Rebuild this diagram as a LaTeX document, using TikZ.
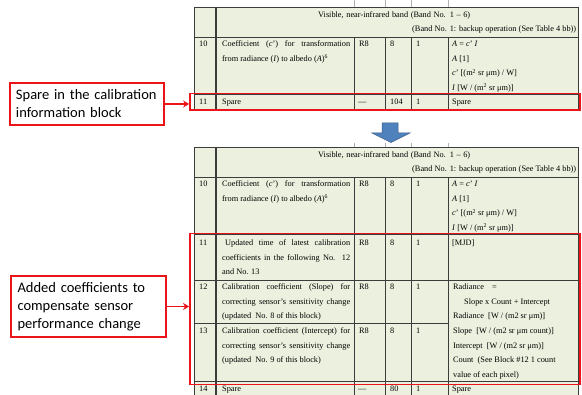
\documentclass[tikz,border=0pt]{standalone}
\usepackage{fontspec}
\setmainfont{Liberation Serif}
\newfontfamily\calfont{Carlito}
\usetikzlibrary{arrows.meta}
\definecolor{tbg}{RGB}{235,241,222}
\definecolor{gridc}{RGB}{60,60,60}
\definecolor{hlred}{RGB}{235,20,25}
\definecolor{arrblue}{RGB}{79,129,189}
\definecolor{arrblueD}{RGB}{56,93,138}
\tikzset{
 gridline/.style={draw=gridc, line width=0.6pt},
 coldiv/.style={draw=gridc, line width=1.1pt},
 tickline/.style={draw=gray!60, line width=0.5pt},
 cell/.style={anchor=base west, inner sep=0pt, font=\fontsize{8.3}{9.5}\selectfont},
 hlbox/.style={draw=hlred, line width=1.8pt, inner sep=0pt},
 callout/.style={draw=hlred, line width=1.8pt, font=\calfont\fontsize{14.5}{18}\selectfont, align=left, inner xsep=6pt, inner ysep=0pt},
 calarrow/.style={draw=hlred, line width=1.5pt, -{Stealth[length=6pt,width=7pt]}},
 downarrow/.style={fill=arrblue, draw=arrblueD, line width=0.5pt},
}
\newcommand{\J}[2]{\makebox[#1pt][s]{#2}}
\begin{document}
\begin{tikzpicture}[x=1pt,y=-1pt]
\useasboundingbox (0,0) rectangle (582,395);
% ---------- top table ----------
\fill[tbg] (194,7) rectangle (578,109);
\draw[gridline] (194,7) rectangle (578,109);
\draw[gridline] (194,37) -- (578,37) (194,94) -- (578,94);
\foreach \x in {354,385,411,448} {
  \draw[gridline] (\x,37) -- (\x,109);
  \draw[tickline] (\x,0) -- (\x,7);
}
\draw[coldiv] (216,7) -- (216,109);
\node[cell] (tVis) at (318,18) {\J{152}{Visible, near-infrared band (Band No. 1 – 6)}};
\node[cell] (tBand) at (412,32) {\J{164}{(Band No. 1: backup operation (See Table 4 bb))}};
\node[cell] (tN10) at (199,47) {10};
\node[cell] (tD10a) at (222,47) {\J{128}{Coefficient (\textit{c}') for transformation}};
\node[cell] (tD10b) at (222,61.5) {from radiance (\textit{I}) to albedo (\textit{A})\textsuperscript{6}};
\node[cell] (tT10) at (359,47) {R8};
\node[cell] (tS10) at (390,47) {8};
\node[cell] (tC10) at (416,47) {1};
\node[cell] (tU10a) at (452,47) {\textit{A} = \textit{c}' \textit{I}};
\node[cell] (tU10b) at (452,61.5) {\textit{A} [1]};
\node[cell] (tU10c) at (452,76) {\textit{c}' [(m\textsuperscript{2} sr μm) / W]};
\node[cell] (tU10d) at (452,90.5) {\textit{I} [W / (m\textsuperscript{2} sr μm)]};
\node[cell] (tN11) at (199,104.5) {11};
\node[cell] (tD11) at (222,104.5) {Spare};
\node[cell] (tT11) at (358,104.5) {—};
\node[cell] (tS11) at (390,104.5) {104};
\node[cell] (tC11) at (416,104.5) {1};
\node[cell] (tU11) at (452,104.5) {Spare};
% ---------- blue arrow ----------
\path[downarrow] (382,123) -- (398,123) -- (398,133) -- (410,133) -- (391,142.5)
  -- (372,133) -- (382,133) -- cycle;
% ---------- bottom table ----------
\fill[tbg] (194,147) rectangle (578,395);
\draw[gridline] (194,395) -- (194,147) -- (578,147) -- (578,395);
\draw[gridline] (194,177) -- (578,177) (194,234) -- (578,234) (194,280) -- (578,280)
  (194,323.5) -- (448,323.5) (194,381) -- (578,381);
\foreach \x in {354,385,411,448} {
  \draw[gridline] (\x,177) -- (\x,395);
  \draw[tickline] (\x,143) -- (\x,147);
}
\draw[coldiv] (216,147) -- (216,395);
\node[cell] (bVis) at (318,158) {\J{152}{Visible, near-infrared band (Band No. 1 – 6)}};
\node[cell] (bBand) at (412,172) {\J{164}{(Band No. 1: backup operation (See Table 4 bb))}};
\node[cell] (bN10) at (199,187) {10};
\node[cell] (bD10a) at (222,187) {\J{128}{Coefficient (\textit{c}') for transformation}};
\node[cell] (bD10b) at (222,201.5) {from radiance (\textit{I}) to albedo (\textit{A})\textsuperscript{6}};
\node[cell] (bT10) at (359,187) {R8};
\node[cell] (bS10) at (390,187) {8};
\node[cell] (bC10) at (416,187) {1};
\node[cell] (bU10a) at (452,187) {\textit{A} = \textit{c}' \textit{I}};
\node[cell] (bU10b) at (452,201.5) {\textit{A} [1]};
\node[cell] (bU10c) at (452,216) {\textit{c}' [(m\textsuperscript{2} sr μm) / W]};
\node[cell] (bU10d) at (452,230.5) {\textit{I} [W / (m\textsuperscript{2} sr μm)]};
% row 11
\node[cell] (bN11) at (199,246) {11};
\node[cell] (bD11a) at (225,246) {\J{125}{Updated time of latest calibration}};
\node[cell] (bD11b) at (222,260.5) {\J{128}{coefficients in the following No. 12}};
\node[cell] (bD11c) at (222,275) {and No. 13};
\node[cell] (bT11) at (359,246) {R8};
\node[cell] (bS11) at (390,246) {8};
\node[cell] (bC11) at (416,246) {1};
\node[cell] (bU11) at (452,246) {[MJD]};
% row 12
\node[cell] (bN12) at (199,290) {12};
\node[cell] (bD12a) at (222,290) {\J{128}{Calibration coefficient (Slope) for}};
\node[cell] (bD12b) at (222,304.5) {\J{128}{correcting sensor's sensitivity change}};
\node[cell] (bD12c) at (222,319) {(updated~ No. 8 of this block)};
\node[cell] (bT12) at (359,290) {R8};
\node[cell] (bS12) at (390,290) {8};
\node[cell] (bC12) at (416,290) {1};
% row 13
\node[cell] (bN13) at (199,334) {13};
\node[cell] (bD13a) at (222,334) {\J{128}{Calibration coefficient (Intercept) for}};
\node[cell] (bD13b) at (222,348.5) {\J{128}{correcting sensor's sensitivity change}};
\node[cell] (bD13c) at (222,363) {(updated~ No. 9 of this block)};
\node[cell] (bT13) at (359,334) {R8};
\node[cell] (bS13) at (390,334) {8};
\node[cell] (bC13) at (416,334) {1};
% merged unit cell rows 12-13
\node[cell] (bU12a) at (453,290) {Radiance\hspace{8pt}=};
\node[cell] (bU12b) at (464,304.5) {Slope x Count + Intercept};
\node[cell] (bU12c) at (453,319) {Radiance~ [W / (m2 sr μm)]};
\node[cell] (bU12d) at (453,334) {Slope~ [W / (m2 sr μm count)]};
\node[cell] (bU12e) at (453,348.5) {Intercept~ [W / (m2 sr μm)]};
\node[cell] (bU12f) at (453,363) {Count~ (See Block \#12 1 count};
\node[cell] (bU12g) at (453,377.5) {value of each pixel)};
% row 14
\node[cell] (bN14) at (199,391.5) {14};
\node[cell] (bD14) at (222,391.5) {Spare};
\node[cell] (bT14) at (358,391.5) {—};
\node[cell] (bS14) at (390,391.5) {80};
\node[cell] (bC14) at (416,391.5) {1};
\node[cell] (bU14) at (452,391.5) {Spare};
% ---------- highlights ----------
\node[hlbox, minimum width=390pt, minimum height=16.5pt] (hl1) at (385,101.75) {};
\node[hlbox, minimum width=390pt, minimum height=151pt] (hl2) at (385,309) {};
% ---------- callouts ----------
\node[callout, minimum width=154pt, minimum height=42pt, text width=142pt] (c1) at (87,104)
  {Spare in the calibration\\information block};
\node[callout, minimum width=155pt, minimum height=61pt, text width=142pt] (c2) at (88.5,306.5)
  {Added coefficients to\\compensate sensor\\performance change};
\draw[calarrow] (c1.east) -- (c1.east -| hl1.west);
\draw[calarrow] (c2.east) -- (c2.east -| hl2.west);
\end{tikzpicture}
\end{document}
